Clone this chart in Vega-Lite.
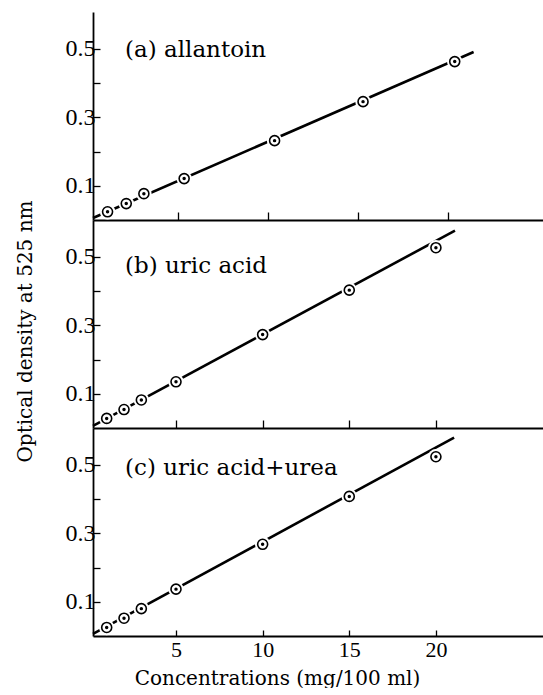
{
  "$schema": "https://vega.github.io/schema/vega-lite/v6.json",
  "padding": {"left": 14, "top": 12, "right": 0, "bottom": 0},
  "spacing": 0,
  "bounds": "flush",
  "config": {
    "font": "DejaVu Serif",
    "view": {"stroke": null},
    "concat": {"spacing": 0},
    "axis": {
      "domainColor": "black", "domainWidth": 1.8, "tickColor": "black", "tickWidth": 1.3,
      "labelColor": "black", "titleColor": "black", "grid": false,
      "labelFont": "Liberation Serif", "titleFont": "DejaVu Serif",
      "labelFontSize": 22, "titleFontSize": 20, "titleFontWeight": "normal", "zindex": 1
    }
  },
  "datasets": {
    "points": [
      {"panel": "a", "conc": 1.06, "od": 0.024},
      {"panel": "a", "conc": 2.10, "od": 0.048},
      {"panel": "a", "conc": 3.08, "od": 0.077},
      {"panel": "a", "conc": 5.32, "od": 0.121},
      {"panel": "a", "conc": 10.35, "od": 0.232},
      {"panel": "a", "conc": 15.27, "od": 0.346},
      {"panel": "a", "conc": 20.37, "od": 0.463},
      {"panel": "b", "conc": 1, "od": 0.028},
      {"panel": "b", "conc": 2, "od": 0.054},
      {"panel": "b", "conc": 3, "od": 0.082},
      {"panel": "b", "conc": 5, "od": 0.135},
      {"panel": "b", "conc": 10, "od": 0.273},
      {"panel": "b", "conc": 15, "od": 0.403},
      {"panel": "b", "conc": 20, "od": 0.527},
      {"panel": "c", "conc": 1, "od": 0.025},
      {"panel": "c", "conc": 2, "od": 0.052},
      {"panel": "c", "conc": 3, "od": 0.080},
      {"panel": "c", "conc": 5, "od": 0.137},
      {"panel": "c", "conc": 10, "od": 0.268},
      {"panel": "c", "conc": 15, "od": 0.408},
      {"panel": "c", "conc": 20, "od": 0.524}
    ],
    "lines": [
      {"panel": "a", "conc": 0.25, "od": 0.006},
      {"panel": "a", "conc": 21.42, "od": 0.491},
      {"panel": "b", "conc": 0.21, "od": 0.006},
      {"panel": "b", "conc": 21.1, "od": 0.577},
      {"panel": "c", "conc": 0.21, "od": 0.006},
      {"panel": "c", "conc": 21.05, "od": 0.58}
    ],
    "captions": [
      {"panel": "a", "conc": 2.03, "od": 0.498, "label": "(a) allantoin"},
      {"panel": "b", "conc": 2.06, "od": 0.473, "label": "(b) uric acid"},
      {"panel": "c", "conc": 2.06, "od": 0.492, "label": "(c) uric acid+urea"}
    ]
  },
  "vconcat": [
    {
      "width": 450, "height": 208,
      "encoding": {
        "x": {"field": "conc", "type": "quantitative", "scale": {"domain": [0.25, 25.28], "nice": false, "zero": false},
              "axis": {"values": [5, 10, 15, 20], "labels": false, "title": null, "tickSize": -8, "minExtent": 0, "maxExtent": 0}},
        "y": {"field": "od", "type": "quantitative", "scale": {"domain": [0, 0.608], "nice": false},
              "axis": {"values": [0.1, 0.2, 0.3, 0.4, 0.5], "tickSize": -7, "labelPadding": 5, "labelFontSize": 24, "format": ".1f", "title": null,
                       "labelExpr": "(datum.value > 0.15 && datum.value < 0.25) || (datum.value > 0.35 && datum.value < 0.45) ? '' : datum.label"}}
      },
      "layer": [
        {"data": {"name": "lines"}, "transform": [{"filter": "datum.panel === 'a'"}],
         "mark": {"type": "line", "color": "black", "strokeWidth": 2.6}},
        {"data": {"name": "points"}, "transform": [{"filter": "datum.panel === 'a'"}],
         "mark": {"type": "point", "shape": "circle", "filled": true, "color": "white", "size": 240, "opacity": 1}},
        {"data": {"name": "points"}, "transform": [{"filter": "datum.panel === 'a'"}],
         "mark": {"type": "point", "shape": "circle", "filled": false, "stroke": "black", "fill": "white", "strokeWidth": 1.6, "size": 100, "opacity": 1}},
        {"data": {"name": "points"}, "transform": [{"filter": "datum.panel === 'a'"}],
         "mark": {"type": "point", "shape": "circle", "filled": true, "color": "black", "size": 12, "opacity": 1}},
        {"data": {"name": "captions"}, "transform": [{"filter": "datum.panel === 'a'"}],
         "mark": {"type": "text", "align": "left", "baseline": "middle", "fontSize": 23, "font": "DejaVu Serif", "fill": "black", "opacity": 1},
         "encoding": {"text": {"field": "label", "type": "nominal"}}}
      ]
    },
    {
      "width": 450, "height": 208,
      "encoding": {
        "x": {"field": "conc", "type": "quantitative", "scale": {"domain": [0.21, 26.18], "nice": false, "zero": false},
              "axis": {"values": [5, 10, 15, 20], "labels": false, "title": null, "tickSize": -8, "minExtent": 0, "maxExtent": 0}},
        "y": {"field": "od", "type": "quantitative", "scale": {"domain": [0, 0.608], "nice": false},
              "axis": {"values": [0.1, 0.2, 0.3, 0.4, 0.5], "tickSize": -7, "labelPadding": 5, "labelFontSize": 24, "format": ".1f",
                       "title": "Optical density at 525 nm", "titlePadding": 30, "titleY": 111,
                       "labelExpr": "(datum.value > 0.15 && datum.value < 0.25) || (datum.value > 0.35 && datum.value < 0.45) ? '' : datum.label"}}
      },
      "layer": [
        {"data": {"name": "lines"}, "transform": [{"filter": "datum.panel === 'b'"}],
         "mark": {"type": "line", "color": "black", "strokeWidth": 2.6}},
        {"data": {"name": "points"}, "transform": [{"filter": "datum.panel === 'b'"}],
         "mark": {"type": "point", "shape": "circle", "filled": true, "color": "white", "size": 240, "opacity": 1}},
        {"data": {"name": "points"}, "transform": [{"filter": "datum.panel === 'b'"}],
         "mark": {"type": "point", "shape": "circle", "filled": false, "stroke": "black", "fill": "white", "strokeWidth": 1.6, "size": 100, "opacity": 1}},
        {"data": {"name": "points"}, "transform": [{"filter": "datum.panel === 'b'"}],
         "mark": {"type": "point", "shape": "circle", "filled": true, "color": "black", "size": 12, "opacity": 1}},
        {"data": {"name": "captions"}, "transform": [{"filter": "datum.panel === 'b'"}],
         "mark": {"type": "text", "align": "left", "baseline": "middle", "fontSize": 23, "font": "DejaVu Serif", "fill": "black", "opacity": 1},
         "encoding": {"text": {"field": "label", "type": "nominal"}}}
      ]
    },
    {
      "width": 450, "height": 208,
      "encoding": {
        "x": {"field": "conc", "type": "quantitative", "scale": {"domain": [0.21, 26.18], "nice": false, "zero": false},
              "axis": {"values": [5, 10, 15, 20], "title": "Concentrations (mg/100 ml)", "tickSize": -6, "labelPadding": 9, "titlePadding": 8, "titleX": 184}},
        "y": {"field": "od", "type": "quantitative", "scale": {"domain": [0, 0.608], "nice": false},
              "axis": {"values": [0.1, 0.2, 0.3, 0.4, 0.5], "tickSize": -7, "labelPadding": 5, "labelFontSize": 24, "format": ".1f", "title": null,
                       "labelExpr": "(datum.value > 0.15 && datum.value < 0.25) || (datum.value > 0.35 && datum.value < 0.45) ? '' : datum.label"}}
      },
      "layer": [
        {"data": {"name": "lines"}, "transform": [{"filter": "datum.panel === 'c'"}],
         "mark": {"type": "line", "color": "black", "strokeWidth": 2.6}},
        {"data": {"name": "points"}, "transform": [{"filter": "datum.panel === 'c'"}],
         "mark": {"type": "point", "shape": "circle", "filled": true, "color": "white", "size": 240, "opacity": 1}},
        {"data": {"name": "points"}, "transform": [{"filter": "datum.panel === 'c'"}],
         "mark": {"type": "point", "shape": "circle", "filled": false, "stroke": "black", "fill": "white", "strokeWidth": 1.6, "size": 100, "opacity": 1}},
        {"data": {"name": "points"}, "transform": [{"filter": "datum.panel === 'c'"}],
         "mark": {"type": "point", "shape": "circle", "filled": true, "color": "black", "size": 12, "opacity": 1}},
        {"data": {"name": "captions"}, "transform": [{"filter": "datum.panel === 'c'"}],
         "mark": {"type": "text", "align": "left", "baseline": "middle", "fontSize": 23, "font": "DejaVu Serif", "fill": "black", "opacity": 1},
         "encoding": {"text": {"field": "label", "type": "nominal"}}}
      ]
    }
  ],
  "resolve": {"scale": {"x": "independent", "y": "independent"}}
}
